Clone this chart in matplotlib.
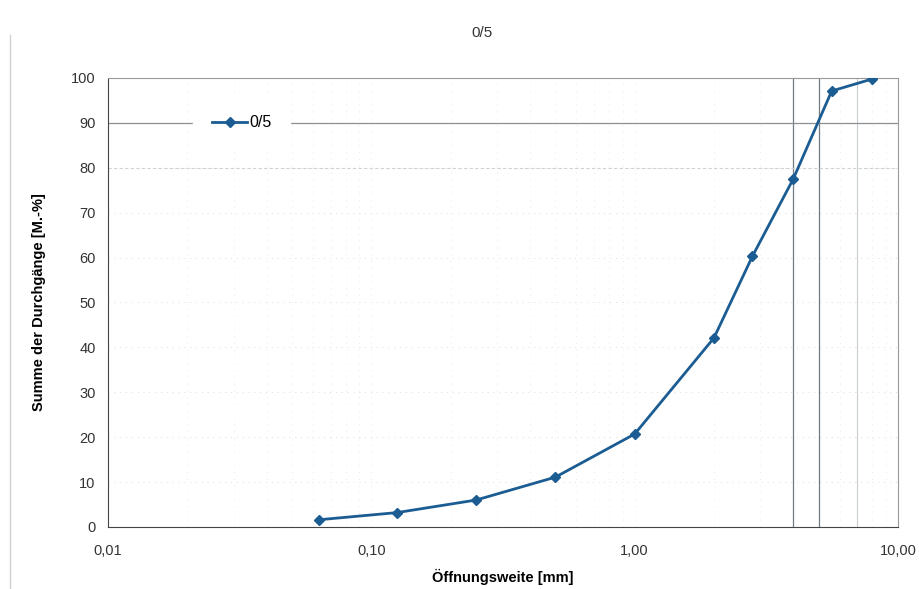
import matplotlib.pyplot as plt
import matplotlib.ticker as mticker
from matplotlib.lines import Line2D

plt.rcParams["font.family"] = ["Liberation Sans", "DejaVu Sans"]

# Sieve analysis 0/5 - passing percentage per sieve opening
sieve_mm = [0.063, 0.125, 0.25, 0.5, 1.0, 2.0, 2.8, 4.0, 5.6, 8.0]
passing = [1.6, 3.2, 6.0, 11.1, 20.7, 42.1, 60.3, 77.5, 97.1, 99.8]

x_ticks = [0.01, 0.1, 1.0, 10.0]
x_tick_labels = ["0,01", "0,10", "1,00", "10,00"]
y_ticks = [0, 10, 20, 30, 40, 50, 60, 70, 80, 90, 100]

# reference lines drawn in the original sheet
vlines_dark = [4.0, 5.0]
vlines_light = [7.0]
hline_dark = 90
hline_light = 80

line_color = "#1b5c93"

fig = plt.figure(figsize=(9.2, 5.89), dpi=100)
ax = fig.add_axes([0.1174, 0.1053, 0.8587, 0.7623])

ax.set_xscale("log")
ax.set_xlim(0.01, 10)
ax.set_ylim(0, 100)

# very faint dotted grid
ax.set_yticks(y_ticks)
ax.yaxis.grid(True, linestyle=(0, (1, 5)), color="#dddddd", linewidth=0.7)
ax.xaxis.grid(True, which="both", linestyle=(0, (1, 6)), color="#e8e8e8", linewidth=0.7)
ax.set_axisbelow(True)

for v in vlines_dark:
    ax.axvline(v, color="#707a85", linewidth=0.9, zorder=1)
for v in vlines_light:
    ax.axvline(v, color="#c8ccd0", linewidth=0.8, zorder=1)
ax.axhline(hline_dark, color="#8a8f95", linewidth=0.9, zorder=1)
ax.axhline(hline_light, color="#cfd2d5", linewidth=0.8, linestyle=(0, (3, 2)), zorder=1)

ax.plot(sieve_mm, passing, color=line_color, marker="D", markersize=5.5,
        linewidth=2, label="0/5", zorder=3)

ax.xaxis.set_major_locator(mticker.FixedLocator(x_ticks))
ax.xaxis.set_major_formatter(mticker.FixedFormatter(x_tick_labels))
ax.xaxis.set_minor_formatter(mticker.NullFormatter())
ax.tick_params(axis="both", which="both", length=0, labelsize=10.5, colors="#333333")
ax.tick_params(axis="x", pad=12)
ax.tick_params(axis="y", pad=9)

ax.spines["left"].set_color("#444444")
ax.spines["bottom"].set_color("#444444")
ax.spines["top"].set_color("#999999")
ax.spines["right"].set_color("#999999")

ax.set_xlabel("Öffnungsweite [mm]", fontsize=10.5, fontweight="bold", labelpad=8)
ax.set_ylabel("Summe der Durchgänge [M.-%]", fontsize=10.5, fontweight="bold", labelpad=18)
fig.text(0.524, 0.944, "0/5", ha="center", va="center", fontsize=11, color="#333333")

# faint scan edge on the left side
fig.add_artist(Line2D([0.011, 0.011], [0.0, 0.94], color="#d0d0d0", linewidth=1))

leg = ax.legend(loc="center left", bbox_to_anchor=(0.126, 0.9), frameon=True,
                fontsize=11.5, handlelength=2.2, handletextpad=0.1, borderpad=0.3,
                borderaxespad=0)
leg.get_frame().set_facecolor("white")
leg.get_frame().set_edgecolor("white")
leg.get_frame().set_alpha(1)
leg.get_frame().set_boxstyle("square", pad=0.9)

fig.savefig("out.png", dpi=100)
plt.close(fig)
